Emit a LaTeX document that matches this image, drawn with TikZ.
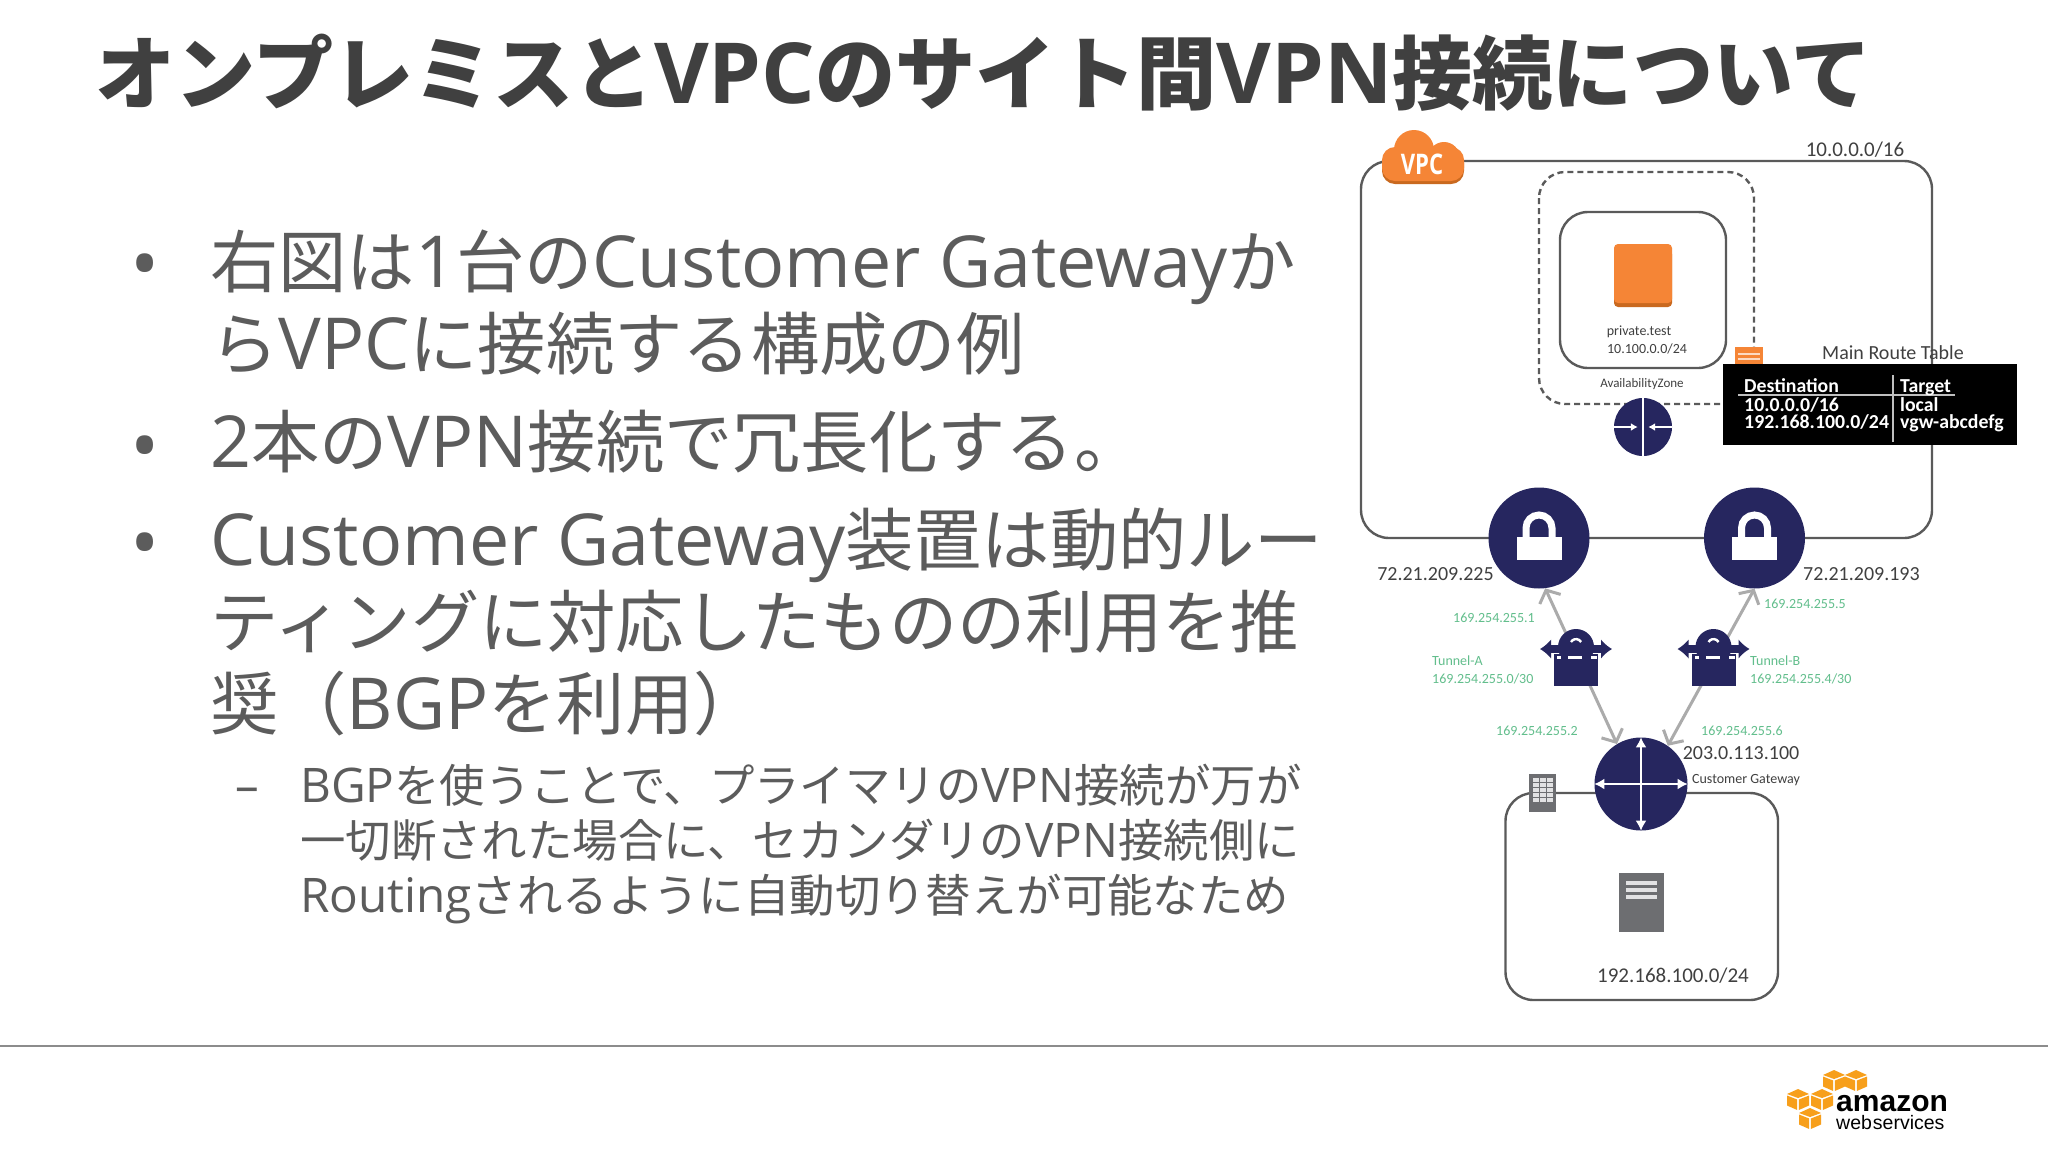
\documentclass[tikz,border=0pt]{standalone}
\usepackage{fontspec}
\setmainfont{Noto Sans CJK JP}
\newfontfamily\la[Scale=1.05]{Open Sans}
\newfontfamily\ca{Carlito}
\newfontfamily\ar{Liberation Sans}
\usetikzlibrary{positioning}
\usetikzlibrary{arrows.meta}
\usetikzlibrary{calc}
\definecolor{navy}{HTML}{26265F}
\definecolor{awsorange}{HTML}{F58536}
\definecolor{darkorange}{HTML}{C9691F}
\definecolor{titlegrey}{HTML}{404040}
\definecolor{bodygrey}{HTML}{5C5C5C}
\definecolor{linegrey}{HTML}{5A5A5A}
\definecolor{tipgrey}{HTML}{ABABAB}
\definecolor{iconrey}{HTML}{6D6E71}
\definecolor{tunnelgreen}{HTML}{62BE8C}
\definecolor{cubeorange}{HTML}{F79F1B}
\tikzset{
	bodyline/.style = {anchor = base west, inner sep = 0, text = bodygrey, font = \fontsize{68.3}{80}\selectfont},
	subline/.style = {anchor = base west, inner sep = 0, text = bodygrey, font = \fontsize{45.4}{52}\selectfont},
	bullet/.style = {anchor = base, inner sep = 0, text = bodygrey, font = \la\fontsize{74}{80}\selectfont},
	netbox/.style = {draw = linegrey, line width = 2.4pt, rounded corners = 28pt},
	gateway/.style = {circle, fill = navy, inner sep = 0},
	iplabel/.style = {inner sep = 0, text = titlegrey, font = \ca\fontsize{20}{24}\selectfont},
	smalllabel/.style = {inner sep = 0, text = titlegrey, font = \ca\fontsize{14}{18}\selectfont},
	greenlabel/.style = {inner sep = 0, text = tunnelgreen, font = \ca\fontsize{14}{18}\selectfont},
	tablelabel/.style = {anchor = base west, inner sep = 0, text = white, font = \ca\bfseries\fontsize{19.8}{20}\selectfont},
	tunnelline/.style = {draw = tipgrey, line width = 3pt, {Straight Barb[length = 10pt, width = 23pt, line width = 3pt]}-{Straight Barb[length = 10pt, width = 23pt, line width = 3pt]}},
	whitearrow/.style = {draw = white, line width = 2.6pt, -{Latex[length = 10pt, width = 11pt]}}
}
\begin{document}
\begin{tikzpicture}[x = 1pt, y = -1pt]
	\useasboundingbox [fill = white] (0, 0) rectangle (2048, 1152);

	\node (title) [anchor = base west, inner sep = 0, text = titlegrey, font = \bfseries\fontsize{80.2}{90}\selectfont] at (95, 103) {オンプレミスと{\la VPC}のサイト間{\la VPN}接続について};

	\node (bullet1) [bullet] at (145, 291) {•};
	\node (line1) [bodyline] at (210, 287) {右図は{\la 1}台の{\la Customer Gateway}か};
	\node (line2) [bodyline] at (210, 369) {ら{\la VPC}に接続する構成の例};
	\node (bullet2) [bullet] at (145, 473) {•};
	\node (line3) [bodyline] at (210, 467) {{\la 2}本の{\la VPN}接続で冗長化する。};
	\node (bullet3) [bullet] at (145, 570) {•};
	\node (line4) [bodyline] at (210, 565) {{\la Customer Gateway}装置は動的ルー};
	\node (line5) [bodyline] at (210, 647) {ティングに対応したものの利用を推};
	\node (line6) [bodyline] at (210, 729) {奨（{\la BGP}を利用）};
	\node (dash1) [subline, font = \la\fontsize{45}{52}\selectfont] at (235, 802) {–};
	\node (line7) [subline] at (300, 802) {{\la BGP}を使うことで、プライマリの{\la VPN}接続が万が};
	\node (line8) [subline] at (300, 857) {一切断された場合に、セカンダリの{\la VPN}接続側に};
	\node (line9) [subline] at (300, 912) {{\la Routing}されるように自動切り替えが可能なため};

	\coordinate (footl) at (0, 1046);
	\coordinate (footr) at (2048, 1046);
	\draw [draw = black!45, line width = 1.2pt] (footl) -- (footr);

	\draw [netbox] (1361, 161) rectangle (1932, 538);
	\draw [linegrey, line width = 2.4pt, dashed, dash pattern = on 6pt off 4pt, rounded corners = 26pt] (1539, 172) rectangle (1754, 404);
	\draw [netbox] (1560, 212) rectangle (1726, 368);
	\draw [netbox] (1505.5, 793) rectangle (1778, 1000);

	\fill [awsorange] (1414, 150) circle (20);
	\fill [awsorange] (1444, 158) circle (16);
	\fill [darkorange, rounded corners = 13pt] (1382, 150) rectangle (1464, 184);
	\fill [awsorange, rounded corners = 13pt] (1382, 147) rectangle (1464, 181);
	\node (vpc) [inner sep = 0, text = white, xscale = 0.78, font = \la\bfseries\fontsize{27}{30}\selectfont] at (1422, 164) {VPC};
	\node (vpccidr) [iplabel, font = \ca\fontsize{21}{24}\selectfont] at (1855, 150) {10.0.0.0/16};

	\fill [darkorange, rounded corners = 4pt] (1614, 250) rectangle (1672, 307);
	\fill [awsorange, rounded corners = 4pt] (1614, 244) rectangle (1672, 303);
	\node (private) [smalllabel] at (1639, 332) {private.test};
	\node (privatecidr) [smalllabel] at (1647, 349) {10.100.0.0/24};
	\node (az) [smalllabel, font = \ca\fontsize{13}{16}\selectfont] at (1642, 384) {AvailabilityZone};

	\node (vgw) [gateway, minimum size = 58pt] at (1643, 427) {};
	\draw [white, line width = 2.6pt] (vgw.north) -- (vgw.south);
	\draw [whitearrow, -{Latex[length = 7pt, width = 8pt]}] (vgw.west) -- ++(24, 0);
	\draw [whitearrow, -{Latex[length = 7pt, width = 8pt]}] (vgw.east) -- ++(-24, 0);

	\fill [awsorange] (1735, 347) rectangle (1763, 373);
	\foreach \ly in {353, 358, 365, 369}
		\fill [white!70!awsorange] (1738, \ly) rectangle (1760, \ly + 1.6);
	\node (routetitle) [iplabel] at (1893, 353) {Main Route Table};
	\fill [black] (1723, 364) rectangle (2017, 445);
	\coordinate (rulel) at (1738, 395);
	\coordinate (ruler) at (1955, 395);
	\coordinate (colt) at (1893, 375);
	\coordinate (colb) at (1893, 442);
	\draw [white!75!black, line width = 1.2pt] (rulel) -- (ruler);
	\draw [white!75!black, line width = 1.2pt] (colt) -- (colb);
	\node (desthead) [tablelabel] at (1744, 392) {Destination};
	\node (targethead) [tablelabel] at (1900, 392) {Target};
	\node (dest1) [tablelabel] at (1744, 411) {10.0.0.0/16};
	\node (target1) [tablelabel] at (1900, 411) {local};
	\node (dest2) [tablelabel] at (1744, 428) {192.168.100.0/24};
	\node (target2) [tablelabel] at (1900, 428) {vgw-abcdefg};

	\node (locka) [gateway, minimum size = 101pt] at (1539, 538) {};
	\node (lockb) [gateway, minimum size = 101pt] at (1754.5, 538) {};
	\foreach \lock in {locka, lockb} {
		\begin{scope}[shift = {(\lock)}]
			\draw [white, line width = 7pt] (-13, 2) -- (-13, -10) arc (180:360:13) -- (13, 2);
			\fill [white] (-22.5, -1) rectangle (22.5, 22);
		\end{scope}
	}
	\node (ipa) [iplabel] at (1435.5, 574) {72.21.209.225};
	\node (ipb) [iplabel, anchor = west] at (1803, 574) {72.21.209.193};

	\node (cgw) [gateway, minimum size = 93pt] at (1641, 784) {};
	\draw [whitearrow, {Latex[length = 10pt, width = 11pt]}-{Latex[length = 10pt, width = 11pt]}] (cgw.north) -- (cgw.south);
	\draw [whitearrow, {Latex[length = 10pt, width = 11pt]}-{Latex[length = 10pt, width = 11pt]}] (cgw.west) -- (cgw.east);

	\draw [tunnelline] (locka.-83) -- (cgw.121);
	\draw [tunnelline] (lockb.-90) -- (cgw.55);

	\node (tunnela) [inner sep = 0, minimum size = 1pt] at (1576, 654) {};
	\node (tunnelb) [inner sep = 0, minimum size = 1pt] at (1713.5, 654) {};
	\foreach \tunnel in {tunnela, tunnelb} {
		\begin{scope}[shift = {(\tunnel)}]
			\fill [navy] (0, -7) circle (18);
			\fill [navy] (-22, 0) rectangle (22, 32);
			\draw [navy, line width = 8pt, {Latex[length = 11pt, width = 20pt]}-{Latex[length = 11pt, width = 20pt]}] (-36, -5) -- (36, -5);
			\draw [white, line width = 2.4pt] (-5, -12) arc (210:330:5.8);
			\fill [white] (-19, 1.5) rectangle (-15, 4.5);
			\fill [white] (-8, 1.5) rectangle (6, 4.5);
			\fill [white] (15, 1.5) rectangle (21, 4.5);
		\end{scope}
	}

	\node (addra1) [greenlabel] at (1494, 618) {169.254.255.1};
	\node (addrb1) [greenlabel] at (1805, 604) {169.254.255.5};
	\node (namea) [greenlabel, anchor = west] at (1432, 661) {Tunnel-A};
	\node (cidra) [greenlabel, anchor = west] at (1432, 679) {169.254.255.0/30};
	\node (nameb) [greenlabel, anchor = west] at (1750, 661) {Tunnel-B};
	\node (cidrb) [greenlabel, anchor = west] at (1750, 679) {169.254.255.4/30};
	\node (addra2) [greenlabel] at (1537, 731) {169.254.255.2};
	\node (addrb2) [greenlabel] at (1742, 731) {169.254.255.6};

	\node (cgwip) [iplabel] at (1741, 753) {203.0.113.100};
	\node (cgwname) [smalllabel] at (1746, 780) {Customer Gateway};

	\fill [iconrey] (1529, 774) rectangle (1556, 812);
	\foreach \gx in {1533, 1540, 1547}
		\foreach \gy in {778, 783, 788, 793, 798}
			\fill [white!80!iconrey] (\gx, \gy) rectangle (\gx + 5.5, \gy + 3.5);
	\fill [iconrey] (1619, 873) rectangle (1663.5, 932);
	\foreach \gy in {881, 888, 895}
		\fill [white!80!iconrey] (1626, \gy) rectangle (1657, \gy + 3.5);
	\node (lancidr) [iplabel, font = \ca\fontsize{21}{24}\selectfont] at (1673, 976) {192.168.100.0/24};

	\foreach \cx/\cy in {1834/1080, 1856/1080, 1798/1099, 1822/1099, 1810/1118} {
		\begin{scope}[shift = {(\cx, \cy)}]
			\fill [cubeorange] (-11, -5) -- (0, -10) -- (11, -5) -- (0, -1) -- cycle;
			\fill [cubeorange] (-11, -3.5) -- (-0.8, 0.5) -- (-0.8, 11) -- (-11, 6.5) -- cycle;
			\fill [cubeorange] (11, -3.5) -- (0.8, 0.5) -- (0.8, 11) -- (11, 6.5) -- cycle;
		\end{scope}
	}
	\node (amazon) [anchor = base west, inner sep = 0, font = \ar\bfseries\fontsize{30}{30}\selectfont] at (1836, 1111) {amazon};
	\node (webservices) [anchor = base west, inner sep = 0, font = \ar\fontsize{19.5}{20}\selectfont] at (1836, 1129) {web\hspace{1pt}services};
\end{tikzpicture}
\end{document}
